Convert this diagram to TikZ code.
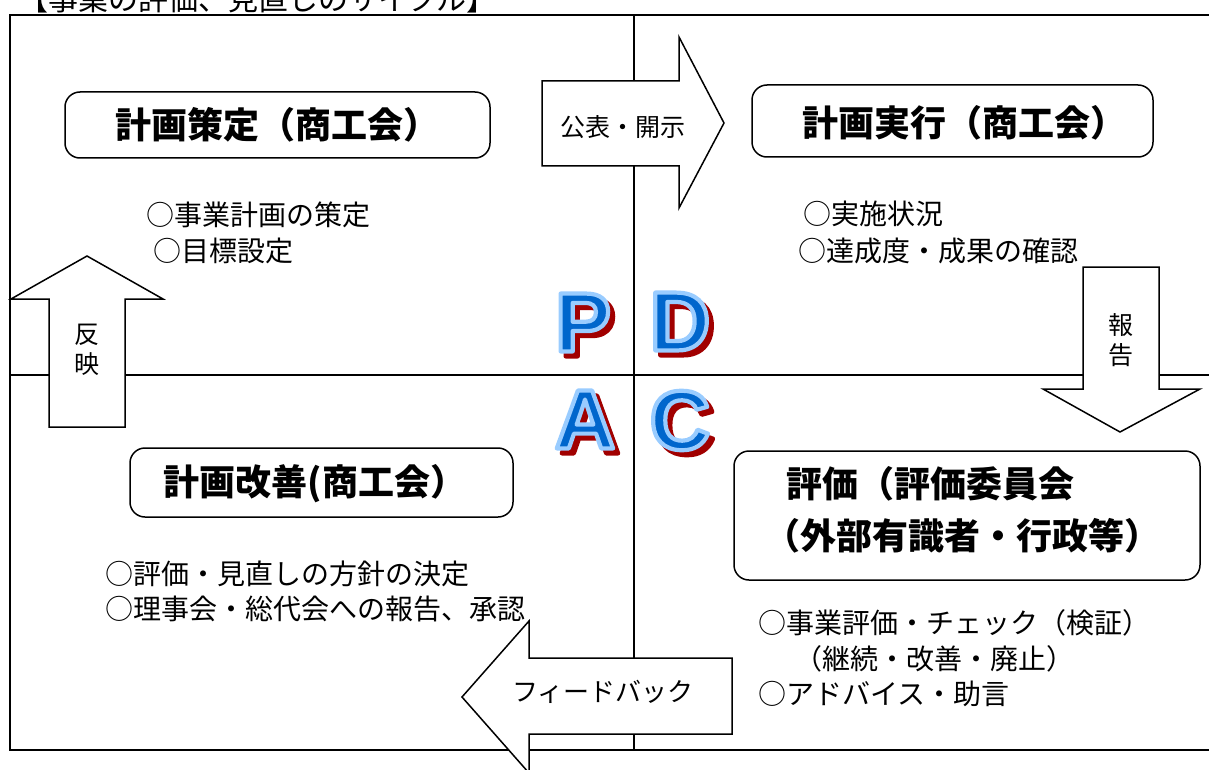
\documentclass[tikz,border=0pt]{standalone}
\usepackage{fontspec}
\newfontfamily\jp{Noto Sans CJK JP}
\newfontfamily\pdcafont{Liberation Sans}
\definecolor{pdcablue}{HTML}{0066CC}
\definecolor{pdcalight}{HTML}{99CCFF}
\definecolor{pdcared}{HTML}{A00000}
\tikzset{
  frameline/.style={line width=2pt,black},
  blockarrow/.style={line width=1.5pt,black,fill=white,line join=miter},
  titlebox/.style={draw,line width=1.5pt,fill=white,rounded corners=15pt,inner sep=0pt},
  titletext/.style={font=\jp\bfseries\fontsize{36}{40}\selectfont,inner sep=0pt},
  bodytext/.style={font=\jp\fontsize{28}{32}\selectfont,inner sep=0pt,anchor=west},
  arrowtext/.style={font=\jp\fontsize{25}{30}\selectfont,inner sep=0pt,align=center},
  pdcabase/.style={font=\pdcafont\bfseries\fontsize{84}{86}\selectfont,inner sep=0pt,text=pdcablue},
}
% outlined text via PDF text render mode (fill + stroke)
\newcommand\strokedtext[3]{\special{pdf:literal direct 1 j 1 J #2 w #1 RG 2 Tr}#3\special{pdf:literal direct 0 Tr}}
% letter with dark red drop shadow and light blue outline
\newcommand\pdcaglyph[1]{\makebox[0pt][l]{\kern5pt\raisebox{-5pt}{\color{pdcared}\strokedtext{0.63 0 0}{4.2}{#1}}}\strokedtext{0.6 0.8 1}{4.2}{#1}}
\begin{document}
\begin{tikzpicture}[x=1pt,y=-1pt]
\clip (0,0) rectangle (1209,770);
\useasboundingbox (0,0) rectangle (1209,770);
\fill[white] (0,0) rectangle (1209,770);

% title
\node[font=\jp\fontsize{30}{34}\selectfont,inner sep=0pt,anchor=base west] (title) at (18,11) {【事業の評価、見直しのサイクル】};

% frame and dividers
\draw[frameline] (1215,15) -- (10,15) -- (10,750) -- (1215,750);
\draw[frameline] (634,15) -- (634,750);
\draw[frameline] (10,375) -- (1215,375);

% PDCA letters
\node[pdcabase] (P) at (583,325) {\pdcaglyph{P}};
\node[pdcabase] (D) at (680,324) {\pdcaglyph{D}};
\node[pdcabase] (A) at (585,422) {\pdcaglyph{A}};
\node[pdcabase] (C) at (680,423) {\pdcaglyph{C}};

% block arrows
\draw[blockarrow] (542,81) -- (679,81) -- (679,37) -- (724,123) -- (679,208) -- (679,166) -- (542,166) -- cycle;
\node[arrowtext] (pub) at (623,127) {公表・開示};

\draw[blockarrow] (49,427) -- (49,299) -- (11,299) -- (87,256) -- (163,299) -- (125,299) -- (125,427) -- cycle;
\node[arrowtext] (refl) at (87,350) {反\\映};

\draw[blockarrow] (1083,267) -- (1159,267) -- (1159,389) -- (1200,389) -- (1120,432) -- (1043,389) -- (1083,389) -- cycle;
\node[arrowtext] (rep) at (1121,340) {報\\告};

\draw[blockarrow] (732,658) -- (732,734) -- (529,734) -- (529,773) -- (462,697) -- (529,621) -- (529,658) -- cycle;
\node[arrowtext,font=\jp\fontsize{26}{30}\selectfont] (fb) at (603,692) {フィードバック};

% title boxes
\node[titlebox,minimum width=425pt,minimum height=66pt,titletext] (plan) at (277.5,125) {計画策定（商工会）};
\node[titlebox,minimum width=401pt,minimum height=72pt] (do) at (952.5,121) {};
\node[titletext] (dotext) at (964,123) {計画実行（商工会）};
\node[titlebox,minimum width=383pt,minimum height=69pt] (act) at (321.5,482.5) {};
\node[titletext] (acttext) at (315,484) {計画改善(商工会）};
\node[titlebox,minimum width=466pt,minimum height=129pt] (check) at (967,515.5) {};
\node[titletext,anchor=west] (checkA) at (786,484) {評価（評価委員会};
\node[titletext,anchor=west] (checkB) at (764,536) {（外部有識者・行政等）};

% body texts
\node[bodytext] (p1) at (146,215) {○事業計画の策定};
\node[bodytext] (p2) at (153,251) {○目標設定};
\node[bodytext] (d1) at (803,214) {○実施状況};
\node[bodytext] (d2) at (798,251) {○達成度・成果の確認};
\node[bodytext] (a1) at (105,574) {○評価・見直しの方針の決定};
\node[bodytext] (a2) at (105,609) {○理事会・総代会への報告、承認};
\node[bodytext] (c1) at (758,623) {○事業評価・チェック（検証）};
\node[bodytext] (c2) at (794,659) {（継続・改善・廃止）};
\node[bodytext] (c3) at (758,694) {○アドバイス・助言};
\end{tikzpicture}
\end{document}
